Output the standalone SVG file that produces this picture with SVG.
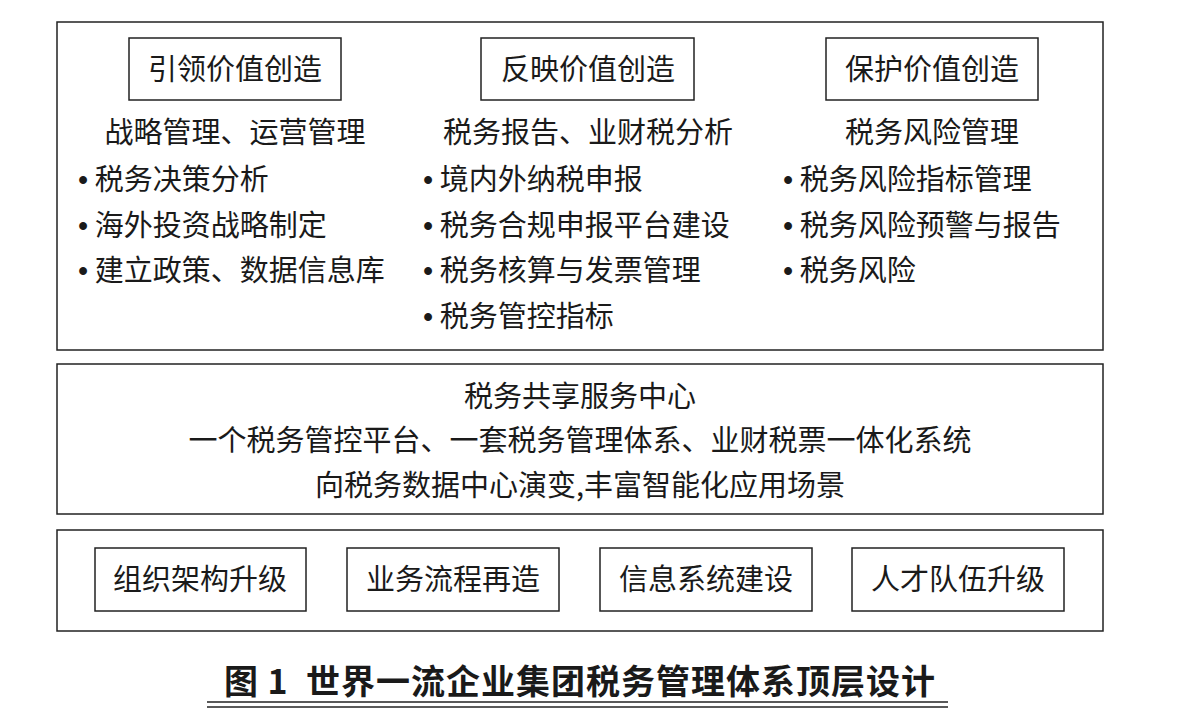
<svg xmlns="http://www.w3.org/2000/svg" width="1178" height="726" viewBox="0 0 1178 726">
<style>
.b{fill:#fff;stroke:#222;stroke-width:1.5}
text{font-family:"Noto Sans CJK SC","Liberation Serif",sans-serif;font-size:29px;fill:#1a1a1a}
.c{text-anchor:middle}
.d{font-family:"Liberation Serif",serif;font-weight:bold}
</style>
<rect width="1178" height="726" fill="#fff"/>
<g id="top"><rect class="b" x="57" y="22" width="1046" height="328"/></g>
<g id="n1"><rect class="b" x="129" y="38" width="212" height="62"/><text class="c" x="235" y="80">引领价值创造</text></g>
<g id="n2"><rect class="b" x="481" y="38" width="213" height="62"/><text class="c" x="588" y="80">反映价值创造</text></g>
<g id="n3"><rect class="b" x="826" y="38" width="212" height="62"/><text class="c" x="932" y="80">保护价值创造</text></g>
<g id="c1"><text class="c" x="235" y="143">战略管理、运营管理</text>
<text x="78" y="190"><tspan class="d">•</tspan> 税务决策分析</text><text x="78" y="236"><tspan class="d">•</tspan> 海外投资战略制定</text><text x="78" y="281"><tspan class="d">•</tspan> 建立政策、数据信息库</text></g>
<g id="c2"><text class="c" x="588" y="143">税务报告、业财税分析</text>
<text x="423" y="190"><tspan class="d">•</tspan> 境内外纳税申报</text><text x="423" y="236"><tspan class="d">•</tspan> 税务合规申报平台建设</text><text x="423" y="281"><tspan class="d">•</tspan> 税务核算与发票管理</text><text x="423" y="327"><tspan class="d">•</tspan> 税务管控指标</text></g>
<g id="c3"><text class="c" x="932" y="143">税务风险管理</text>
<text x="783" y="190"><tspan class="d">•</tspan> 税务风险指标管理</text><text x="783" y="236"><tspan class="d">•</tspan> 税务风险预警与报告</text><text x="783" y="281"><tspan class="d">•</tspan> 税务风险</text></g>
<g id="mid"><rect class="b" x="57" y="364" width="1046" height="150"/>
<text class="c" x="580" y="407">税务共享服务中心</text>
<text class="c" x="580" y="451">一个税务管控平台、一套税务管理体系、业财税票一体化系统</text>
<text class="c" x="580" y="496">向税务数据中心演变,丰富智能化应用场景</text></g>
<g id="bot"><rect class="b" x="57" y="530" width="1046" height="101"/></g>
<g id="b1"><rect class="b" x="95" y="548" width="211" height="63"/><text class="c" x="200" y="590">组织架构升级</text></g>
<g id="b2"><rect class="b" x="347" y="548" width="212" height="63"/><text class="c" x="453" y="590">业务流程再造</text></g>
<g id="b3"><rect class="b" x="600" y="548" width="212" height="63"/><text class="c" x="706" y="590">信息系统建设</text></g>
<g id="b4"><rect class="b" x="852" y="548" width="212" height="63"/><text class="c" x="958" y="590">人才队伍升级</text></g>
<g id="connectors"></g>
<g id="title"><text class="c" x="580" y="694" xml:space="preserve" style="font-size:34px;font-weight:bold;letter-spacing:1px">图 1  世界一流企业集团税务管理体系顶层设计</text>
<line x1="207" y1="702" x2="948" y2="702" stroke="#222" stroke-width="1.5"/>
<line x1="207" y1="707" x2="948" y2="707" stroke="#222" stroke-width="1.5"/></g>
</svg>
